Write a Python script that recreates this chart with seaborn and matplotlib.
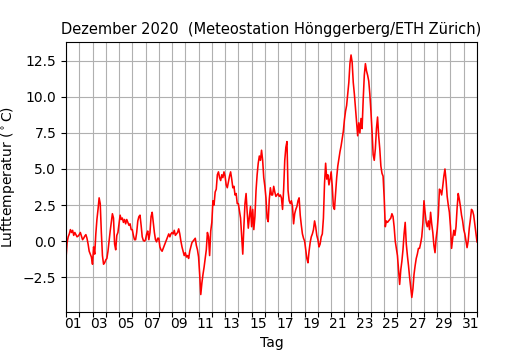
import numpy as np
import pandas as pd
import matplotlib
matplotlib.use("Agg")
import matplotlib.pyplot as plt
import matplotlib.dates as mdates
import seaborn as sns

# 2-hourly air temperature readings (degC), Dec 2020
temp_w1 = [
    -1.2, -0.1, 0.3, 0.5, 0.8, 0.6, 0.75, 0.4, 0.6, 0.45, 0.3, 0.35,    # 01
    0.45, 0.6, 0.35, 0.1, 0.2, 0.35, 0.45, 0.2, -0.2, -0.7, -0.9, -1.1,  # 02
    -1.6, -0.4, -0.9, 0.5, 1.5, 2.2, 3.0, 2.6, 0.6, -1.0, -1.6, -1.5,    # 03
    -1.3, -1.2, -0.7, 0.0, 0.7, 1.3, 1.9, 1.6, -0.2, -0.6, 0.4, 0.6,     # 04
    1.2, 1.8, 1.5, 1.6, 1.3, 1.5, 1.2, 1.5, 1.3, 1.1, 1.2, 0.8,          # 05
    0.8, 0.4, 0.1, 0.1, 0.6, 1.4, 1.7, 1.8, 1.1, 0.3, 0.05, 0.0,         # 06
    0.1, 0.5, 0.7, 0.1, 0.6, 1.7, 2.0, 1.3, 0.6, 0.1, -0.05, 0.2,        # 07
]
temp_w2 = [
    0.2, -0.4, -0.6, -0.7, -0.5, -0.3, -0.1, 0.1, 0.3, 0.5, 0.3, 0.5,    # 08
    0.6, 0.5, 0.75, 0.4, 0.5, 0.6, 0.85, 0.5, 0.0, -0.4, -0.7, -1.0,     # 09
    -0.8, -1.1, -1.0, -1.2, -0.7, -0.4, -0.1, 0.0, 0.1, 0.2, -0.3, -0.6, # 10
    -1.1, -2.3, -3.7, -2.9, -2.3, -1.8, -1.2, -0.6, 0.6, 0.3, -1.0, 0.7, # 11
    1.3, 2.8, 2.5, 3.4, 3.6, 4.6, 4.8, 4.4, 4.2, 4.6, 4.4, 4.8,          # 12
    4.5, 3.9, 3.7, 4.1, 4.5, 4.8, 4.3, 3.7, 3.8, 3.2, 3.3, 2.6,          # 13
    2.6, 2.1, 1.6, 0.4, -0.9, 1.0, 2.6, 3.3, 2.0, 0.9, 1.7, 2.4,         # 14
]
temp_w3 = [
    1.0, 2.2, 0.8, 1.7, 3.5, 4.6, 5.4, 5.9, 5.6, 6.3, 5.6, 4.4,          # 15
    3.8, 3.0, 1.6, 1.35, 2.9, 3.7, 3.2, 3.2, 3.8, 3.4, 3.1, 3.2,         # 16
    3.3, 3.1, 3.2, 3.0, 2.2, 3.6, 5.6, 6.5, 6.9, 3.5, 2.8, 2.6,          # 17
    2.8, 2.4, 1.2, 1.9, 2.2, 2.4, 2.8, 3.0, 1.8, 1.1, 0.5, 0.2,          # 18
    0.0, -0.6, -1.2, -1.5, -0.7, -0.1, 0.3, 0.5, 0.8, 1.4, 1.0, 0.4,     # 19
    0.1, -0.4, -0.2, 0.3, 0.5, 1.6, 4.0, 5.4, 4.3, 4.6, 3.9, 4.3,        # 20
    4.8, 3.8, 2.4, 2.2, 3.3, 4.4, 5.2, 5.7, 6.2, 6.6, 7.1, 7.6,          # 21
]
temp_w4 = [
    8.4, 9.0, 9.4, 10.2, 11.0, 12.3, 12.9, 12.4, 11.0, 10.2, 9.2, 8.3,   # 22
    7.3, 8.2, 7.5, 8.5, 7.8, 9.8, 11.5, 12.3, 11.8, 11.5, 11.1, 10.2,    # 23
    9.0, 7.6, 6.0, 5.6, 6.4, 7.8, 8.6, 7.3, 6.4, 5.2, 4.7, 4.5,          # 24
    3.0, 1.0, 1.4, 1.3, 1.4, 1.5, 1.6, 1.9, 1.7, 1.0, 0.0, -0.5,         # 25
    -1.0, -2.0, -3.0, -2.0, -1.4, -0.6, 0.5, 1.3, -0.2, -1.0, -1.7, -2.5,  # 26
    -3.2, -3.9, -3.3, -2.3, -1.7, -1.2, -0.9, -0.5, -0.5, -0.15, 0.3, 1.2,  # 27
    2.8, 2.0, 1.3, 1.0, 1.4, 0.8, 2.0, 1.2, 0.6, -0.3, -0.8, 0.2,        # 28
]
temp_w5 = [
    0.8, 1.8, 3.6, 3.5, 3.2, 3.8, 4.5, 5.0, 4.2, 3.1, 2.5, 2.0,          # 29
    1.0, -0.5, 0.2, 0.75, 0.4, 1.0, 2.3, 3.3, 2.9, 2.4, 1.8, 1.4,        # 30
    0.8, 0.5, 0.0, -0.45, 0.0, 0.9, 1.5, 2.2, 2.1, 1.8, 1.2, 0.6,        # 31
    -0.05,
]

temps = temp_w1 + temp_w2 + temp_w3 + temp_w4 + temp_w5
times = pd.date_range("2020-12-01 00:00", periods=len(temps), freq="2h")
df = pd.DataFrame({"Zeit": times, "Temperatur": temps})

label_days = pd.date_range("2020-12-01 12:00", "2020-12-31 12:00", freq="2D")
y_ticks = [-2.5, 0.0, 2.5, 5.0, 7.5, 10.0, 12.5]

fig = plt.figure(figsize=(5.3, 3.5), dpi=100)
ax = fig.add_axes([0.1245, 0.109, 0.7755, 0.771])

sns.lineplot(data=df, x="Zeit", y="Temperatur", color="red", linewidth=1.15, ax=ax)

ax.set_xlim(pd.Timestamp("2020-12-01"), pd.Timestamp("2021-01-01"))
ax.set_ylim(-4.9, 13.8)
ax.set_yticks(y_ticks)

ax.xaxis.set_major_locator(mdates.DayLocator())
ax.xaxis.set_major_formatter(plt.NullFormatter())
ax.set_xticks(mdates.date2num(label_days), minor=True)
ax.set_xticklabels([d.strftime("%d") for d in label_days], minor=True)
ax.tick_params(axis="x", which="minor", length=0)

ax.grid(True, which="major", color="#b0b0b0", linewidth=0.8)
ax.set_axisbelow(True)

ax.set_xlabel("Tag")
ax.set_ylabel("Lufttemperatur ($^\\circ$C)")
ax.set_title("Dezember 2020  (Meteostation Hönggerberg/ETH Zürich)", fontsize=10.5)

fig.savefig("out.png", dpi=100)
